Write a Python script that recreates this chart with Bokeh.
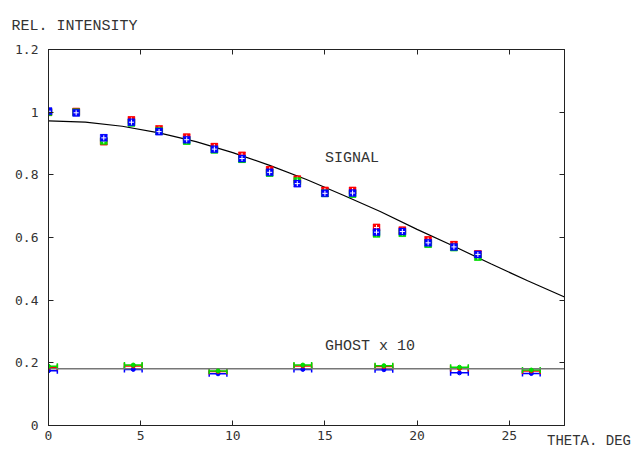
from bokeh.plotting import figure
from bokeh.layouts import column
from bokeh.models import (Range1d, FixedTicker, LinearAxis, Label, Whisker, TeeHead, Div,
                          ColumnDataSource, CustomJSTickFormatter)
from bokeh.embed import file_html
from bokeh.resources import INLINE

# ---- data ----
sig_x = [0, 1.5, 3, 4.5, 6, 7.5, 9, 10.5, 12, 13.5, 15, 16.5, 17.8, 19.2, 20.6, 22, 23.3]
sig_red = [1.000, 1.002, 0.906, 0.975, 0.946, 0.920, 0.890, 0.862, 0.816, 0.786, 0.750, 0.750, 0.632, 0.623, 0.592, 0.577, 0.547]
sig_green = [1.000, 1.000, 0.908, 0.966, 0.940, 0.908, 0.880, 0.850, 0.806, 0.780, 0.741, 0.739, 0.612, 0.614, 0.579, 0.568, 0.538]
sig_blue = [1.003, 0.998, 0.918, 0.968, 0.938, 0.912, 0.882, 0.852, 0.808, 0.772, 0.741, 0.742, 0.617, 0.619, 0.583, 0.570, 0.546]
sig_err = 0.01

fit_x = [0, 2, 4, 6, 8, 10, 12, 14, 16, 18, 20, 22, 24, 26, 28]
fit_y = [0.972, 0.968, 0.955, 0.934, 0.906, 0.871, 0.830, 0.785, 0.735, 0.683, 0.626, 0.572, 0.516, 0.462, 0.410]

ghost_x = [0, 4.6, 9.2, 13.8, 18.2, 22.3, 26.2]
ghost_green = [0.189, 0.193, 0.174, 0.193, 0.191, 0.186, 0.177]
ghost_red = [0.186, 0.190, 0.172, 0.190, 0.188, 0.182, 0.174]
ghost_blue = [0.175, 0.179, 0.165, 0.179, 0.178, 0.168, 0.166]
ghost_xerr = 0.48
ghost_level = [0.181, 0.181]
ghost_level_x = [0, 28]

x_ticks = [0, 5, 10, 15, 20, 25]
y_ticks = [0, 0.2, 0.4, 0.6, 0.8, 1.0, 1.2]

MONO = "Liberation Mono"
TICKFONT = "DejaVu Sans Mono"

p = figure(width=630, height=445, output_backend="svg", toolbar_location=None,
           x_range=Range1d(0, 28), y_range=Range1d(0, 1.2),
           min_border_left=48, min_border_right=66, min_border_top=48, min_border_bottom=20,
           title="REL. INTENSITY")
p.title.text_font = MONO
p.title.text_font_size = "15px"
p.title.text_font_style = "normal"
p.title.text_color = "#333333"
p.title.align = "left"
p.title.offset = -37
p.title.standoff = 30
p.background_fill_color = "white"
p.border_fill_color = "white"
p.outline_line_color = "#222222"
p.outline_line_width = 1
p.xgrid.visible = False
p.ygrid.visible = False

fmt = CustomJSTickFormatter(code="var s = tick.toFixed(1); return s.endsWith('.0') ? s.slice(0, -2) : s;")

for ax in [p.xaxis[0], p.yaxis[0]]:
    ax.major_tick_in = 5
    ax.major_tick_out = 0
    ax.minor_tick_line_color = None
    ax.axis_line_color = "#222222"
    ax.major_tick_line_color = "#222222"
    ax.major_label_text_font = TICKFONT
    ax.major_label_text_font_size = "13px"
    ax.major_label_text_color = "#333333"
p.xaxis[0].ticker = FixedTicker(ticks=x_ticks)
p.yaxis[0].ticker = FixedTicker(ticks=y_ticks)
p.yaxis[0].formatter = fmt
p.xaxis[0].major_label_standoff = 5
p.yaxis[0].major_label_standoff = 10

top = LinearAxis(ticker=FixedTicker(ticks=x_ticks), major_tick_in=5, major_tick_out=0,
                 minor_tick_line_color=None, major_label_text_color=None,
                 major_label_text_font_size="0px", major_label_standoff=0,
                 axis_line_color="#222222", major_tick_line_color="#222222")
right = LinearAxis(ticker=FixedTicker(ticks=y_ticks), major_tick_in=5, major_tick_out=0,
                   minor_tick_line_color=None, major_label_text_color=None,
                   major_label_text_font_size="0px", major_label_standoff=0,
                   axis_line_color="#222222", major_tick_line_color="#222222")
p.add_layout(top, "above")
p.add_layout(right, "right")

# ghost reference line
p.line(ghost_level_x, ghost_level, line_color="#777777", line_width=1.6)

# fit curve
p.line(fit_x, fit_y, line_color="black", line_width=1.2)

# signal points
for ys, col in [(sig_red, "red"), (sig_green, "#00dd00"), (sig_blue, "blue")]:
    src = ColumnDataSource(dict(x=sig_x, y=ys,
                                lo=[v - sig_err for v in ys], hi=[v + sig_err for v in ys]))
    w = Whisker(source=src, base="x", lower="lo", upper="hi", dimension="height",
                line_color=col, line_width=1,
                upper_head=TeeHead(size=7, line_color=col, line_width=1),
                lower_head=TeeHead(size=7, line_color=col, line_width=1))
    p.add_layout(w)
    p.scatter("x", "y", source=src, marker="square", size=7, fill_color=col,
              line_color=col, line_alpha=0.4)
    p.scatter("x", "y", source=src, marker="cross", size=5, line_color="white", line_width=1)

# ghost points
for ys, col in [(ghost_blue, "blue"), (ghost_red, "red"), (ghost_green, "#00dd00")]:
    src = ColumnDataSource(dict(y=ys, x=ghost_x,
                                lo=[v - ghost_xerr for v in ghost_x], hi=[v + ghost_xerr for v in ghost_x]))
    w = Whisker(source=src, base="y", lower="lo", upper="hi", dimension="width",
                line_color=col, line_width=1.5,
                upper_head=TeeHead(size=6, line_color=col, line_width=1.5),
                lower_head=TeeHead(size=6, line_color=col, line_width=1.5))
    p.add_layout(w)
    p.scatter("x", "y", source=src, marker="circle", size=4, fill_color=col, line_color=col)

# annotations
p.add_layout(Label(x=15.0, y=0.853, text="SIGNAL", text_font=MONO, text_font_size="15px",
                   text_color="#333333", text_baseline="middle"))
p.add_layout(Label(x=15.0, y=0.252, text="GHOST x 10", text_font=MONO, text_font_size="15px",
                   text_color="#333333", text_baseline="middle"))

xlabel = Div(text="THETA. DEG", margin=(-11, 0, 0, 547), width=88, height=14,
             styles={"font-family": MONO, "font-size": "14px", "color": "#333333",
                     "white-space": "nowrap", "line-height": "14px"})

layout = column(p, xlabel, spacing=0)

open("out.html", "w").write(file_html(layout, INLINE))
